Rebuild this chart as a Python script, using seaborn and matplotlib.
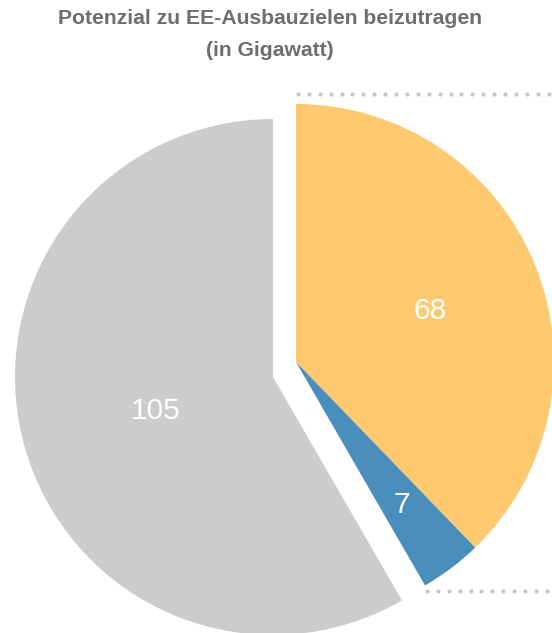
import numpy as np
import seaborn as sns
import matplotlib.pyplot as plt

# data (Gigawatt)
categories = ["Teil A", "Teil B", "Rest"]
values = [68, 7, 105]
slice_colors = ["#FFC970", "#4A8EBB", "#CCCDCB"]
exploded = [True, True, False]
label_dist = [0.56, 0.68, 0.47]

sns.set_style("white")
plt.rcParams['font.family'] = ['Liberation Sans', 'DejaVu Sans']

W, H = 552, 633
fig = plt.figure(figsize=(W / 100, H / 100), dpi=100)
ax = fig.add_axes([0, 0, 1, 1])

cx, cy, r = 273, H - 377, 258
shift = (23, 15)

wedges, _ = ax.pie(values, colors=slice_colors, startangle=90, counterclock=False,
                   radius=r, center=(cx, cy), wedgeprops=dict(linewidth=0))

for w, ex, d, v in zip(wedges, exploded, label_dist, values):
    c = (cx + shift[0], cy + shift[1]) if ex else (cx, cy)
    w.set_center(c)
    mid = np.deg2rad((w.theta1 + w.theta2) / 2)
    ax.text(c[0] + d * r * np.cos(mid), c[1] + d * r * np.sin(mid), str(v),
            color="white", fontsize=21.5, ha="center", va="center_baseline")

# dotted guide lines to the (cropped) detail chart on the right
ex_c = wedges[0].center
top_y = ex_c[1] + r + 10
xs = np.arange(ex_c[0] + 2, W + 6, 10.9)
ax.plot(xs, np.full_like(xs, top_y), ls="none", marker="o", ms=3, color="#C6C6C6", mec="none")
ang = np.deg2rad(wedges[1].theta1)
tip = (ex_c[0] + r * np.cos(ang), ex_c[1] + r * np.sin(ang))
xs2 = np.arange(tip[0] + 2, W + 6, 10.9)
ax.plot(xs2, np.full_like(xs2, tip[1] - 6), ls="none", marker="o", ms=3, color="#C6C6C6", mec="none")

ax.text(270, H - 19, "Potenzial zu EE-Ausbauzielen beizutragen", ha="center", va="center",
        fontsize=15.2, fontweight="bold", color="#6D6E72")
ax.text(270, H - 51, "(in Gigawatt)", ha="center", va="center",
        fontsize=15.2, fontweight="bold", color="#6D6E72")

ax.set_xlim(0, W)
ax.set_ylim(0, H)
ax.set_aspect("equal")
ax.axis("off")

fig.savefig("out.png", dpi=100, facecolor="white")
